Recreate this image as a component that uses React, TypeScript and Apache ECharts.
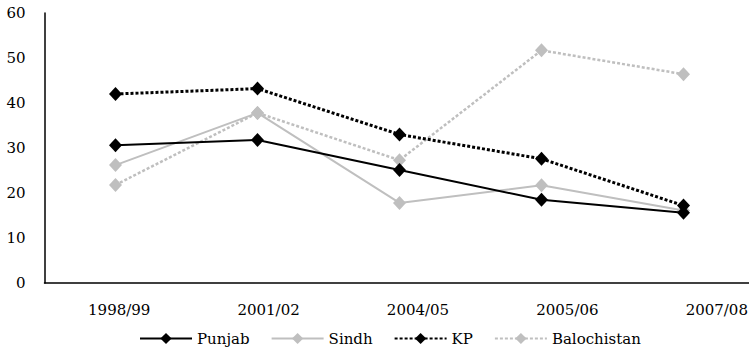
import React, { useEffect, useRef } from "react";
import * as echarts from "echarts";

const categories = ["1998/99", "2001/02", "2004/05", "2005/06", "2007/08"];
const punjab = [30.6, 31.8, 25.1, 18.5, 15.6];
const sindh = [26.2, 37.8, 17.8, 21.7, 16.1];
const kp = [42.0, 43.2, 33.0, 27.6, 17.2];
const balochistan = [21.8, 37.8, 27.3, 51.7, 46.4];
const yTicks = { min: 0, max: 60, interval: 10 };

const FONT = "DejaVu Serif";
const GRAY = "#bfbfbf";

export default function App() {
  const ref = useRef<HTMLDivElement>(null);
  useEffect(() => {
    document.body.style.margin = "0";
    if (!ref.current) return;
    const chart = echarts.init(ref.current, null, { renderer: "svg" });
    const mk = (name: string, data: number[], color: string, dotted: boolean, z: number, width: number) => ({
      name,
      type: "line",
      data,
      z,
      xAxisIndex: 0,
      yAxisIndex: 0,
      symbol: "diamond",
      symbolSize: [13, 14],
      showSymbol: true,
      itemStyle: { color, borderWidth: 0 },
      lineStyle: { color, width, type: dotted ? [3, 2] : "solid" },
      emphasis: { disabled: true },
    });
    const txt = { fontFamily: FONT, fontSize: 15, color: "#000" };
    chart.setOption({
      animation: false,
      textStyle: { fontFamily: FONT },
      grid: [
        { left: 44.5, top: 13, bottom: 69, width: 710, outerBoundsMode: "none", containLabel: false },
        { left: 44.5, top: 13, bottom: 69, width: 747, outerBoundsMode: "none", containLabel: false },
      ],
      legend: {
        left: 134,
        top: 326,
        itemWidth: 52,
        itemHeight: 14,
        itemGap: 21,
        textStyle: txt,
        data: ["Punjab", "Sindh", "KP", "Balochistan"],
      },
      xAxis: [
        {
          type: "category",
          gridIndex: 0,
          data: categories,
          boundaryGap: true,
          axisLine: { lineStyle: { color: "#000", width: 1.5 } },
          axisTick: { alignWithLabel: true, length: 5, lineStyle: { color: "#000" } },
          axisLabel: { show: false },
          splitLine: { show: false },
        },
        {
          type: "category",
          gridIndex: 1,
          data: categories,
          boundaryGap: true,
          axisLine: { show: false },
          axisTick: { show: false },
          axisLabel: { ...txt, margin: 19, interval: 0 },
          splitLine: { show: false },
        },
      ],
      yAxis: [
        {
          type: "value",
          gridIndex: 0,
          min: yTicks.min,
          max: yTicks.max,
          interval: yTicks.interval,
          axisLine: { show: true, lineStyle: { color: "#000", width: 1.5 } },
          axisTick: { show: false },
          axisLabel: { ...txt, margin: 19 },
          splitLine: { show: false },
        },
        {
          type: "value",
          gridIndex: 1,
          min: yTicks.min,
          max: yTicks.max,
          interval: yTicks.interval,
          show: false,
          splitLine: { show: false },
        },
      ],
      series: [
        mk("Punjab", punjab, "#000", false, 4, 2),
        mk("Sindh", sindh, GRAY, false, 2, 2),
        mk("KP", kp, "#000", true, 5, 3),
        mk("Balochistan", balochistan, GRAY, true, 1, 2.5),
      ],
    });
    return () => chart.dispose();
  }, []);
  return <div ref={ref} style={{ width: 749, height: 352 }} />;
}
